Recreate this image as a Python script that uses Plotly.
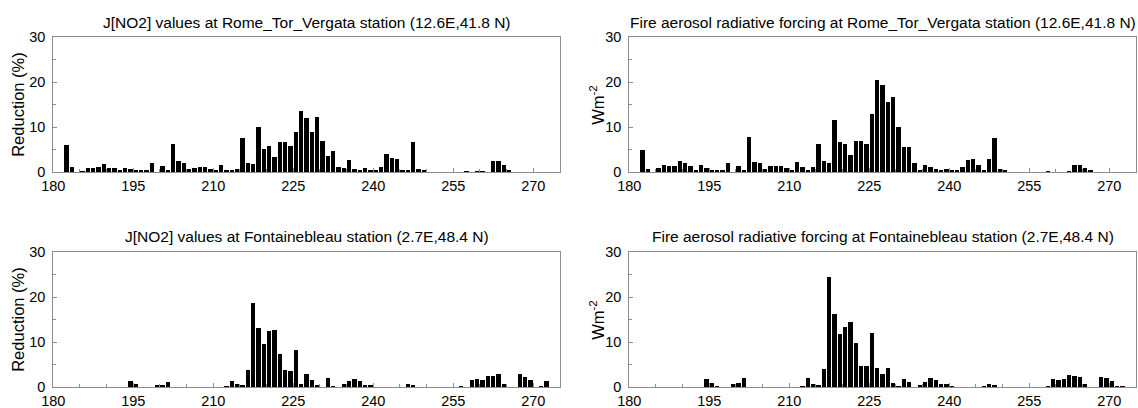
import plotly.graph_objects as go

# ---------------- data (day of year -> value) ----------------
rome_jno2_days = [182,183,185,186,187,188,189,190,191,192,193,194,195,196,197,198,200,201,202,203,204,205,206,207,208,209,210,211,212,213,214,215,216,217,218,219,220,221,222,223,224,225,226,227,228,229,230,231,232,233,234,235,236,237,238,239,240,241,242,243,244,245,246,247,248,249,257,259,260,262,263,264,265]
rome_jno2_vals = [5.9,1.1,0.1,1.0,0.9,1.1,1.8,1.0,0.9,0.3,0.9,0.7,0.5,0.5,0.5,2.0,1.4,0.4,6.2,2.4,2.1,0.6,1.0,1.1,1.1,0.7,0.3,1.6,0.4,0.3,0.7,7.6,2.1,1.8,10.1,5.2,5.8,3.3,6.7,6.6,5.7,9.0,13.5,11.9,9.0,12.3,6.8,3.6,4.6,1.1,0.8,2.7,0.7,0.4,0.9,0.5,0.5,1.1,3.9,3.1,2.9,0.5,0.4,6.7,0.7,0.5,0.1,0.1,0.1,2.4,2.4,1.6,0.3]

rome_arf_days = [182,183,185,186,187,188,189,190,191,192,193,194,195,196,197,198,200,201,202,203,204,205,206,207,208,209,210,211,212,213,214,215,216,217,218,219,220,221,222,223,224,225,226,227,228,229,230,231,232,233,234,235,236,237,238,239,240,241,242,243,244,245,246,247,248,249,250,258,262,263,264,265,266]
rome_arf_vals = [4.8,0.6,0.9,1.6,1.4,1.4,2.4,1.9,1.4,0.5,1.6,1.0,0.5,0.3,0.5,2.1,1.3,0.5,7.8,2.3,1.9,0.7,1.3,1.4,1.4,0.9,0.5,2.2,1.2,0.5,1.2,6.3,2.5,2.1,11.6,6.7,6.3,3.8,7.0,7.0,6.3,13.0,20.4,19.3,15.6,16.6,10.1,5.6,5.6,2.1,0.5,1.6,1.2,0.7,0.5,0.6,0.3,0.3,1.2,2.6,2.8,1.6,0.4,3.0,7.6,0.7,0.3,0.1,0.1,1.6,1.6,1.0,0.3]

font_jno2_days = [194,195,199,200,201,212,213,214,215,216,217,218,219,220,221,222,223,224,225,226,227,228,229,231,232,234,235,236,237,238,239,246,247,256,258,259,260,261,262,263,264,267,268,269,271,272]
font_jno2_vals = [1.3,0.6,0.4,0.5,1.2,0.2,1.4,0.6,0.5,3.8,18.7,13.2,9.6,12.4,12.6,7.3,3.8,3.5,8.2,0.6,3.0,1.6,0.4,2.0,0.2,0.6,1.3,1.8,1.4,0.4,0.4,0.7,0.5,0.1,1.6,1.8,1.6,2.4,2.4,3.0,0.7,3.0,2.3,1.5,0.1,1.4]

font_arf_days = [194,195,196,199,200,201,212,213,214,215,216,217,218,219,220,221,222,223,224,225,226,227,228,229,230,231,232,234,235,236,237,238,239,240,246,247,248,258,259,260,261,262,263,264,265,268,269,270,271,272]
font_arf_vals = [1.8,0.8,0.1,0.7,0.9,2.0,0.2,2.0,0.7,0.4,4.1,24.5,16.2,11.8,13.3,14.4,9.8,4.6,4.6,12.0,4.2,2.8,4.3,1.0,0.1,1.7,1.1,0.3,1.2,2.1,1.5,0.7,0.6,0.1,0.2,0.7,0.3,0.1,1.8,1.6,1.8,2.6,2.4,2.3,0.7,2.3,1.9,1.3,0.1,0.2]

titles = [
    "J[NO2] values at Rome_Tor_Vergata station (12.6E,41.8 N)",
    "Fire aerosol radiative forcing at Rome_Tor_Vergata station (12.6E,41.8 N)",
    "J[NO2] values at Fontainebleau station (2.7E,48.4 N)",
    "Fire aerosol radiative forcing at Fontainebleau station (2.7E,48.4 N)",
]
ylabels = ["Reduction (%)", "Wm<sup>-2</sup>", "Reduction (%)", "Wm<sup>-2</sup>"]
x_ticks = [180, 195, 210, 225, 240, 255, 270]
y_ticks = [0, 10, 20, 30]

series = [(rome_jno2_days, rome_jno2_vals), (rome_arf_days, rome_arf_vals),
          (font_jno2_days, font_jno2_vals), (font_arf_days, font_arf_vals)]

# ---------------- layout geometry ----------------
W, H = 1138, 408
xdom = [[53.3 / W, 560 / W], [629.3 / W, 1136 / W]]
ydom = [[(H - 172.3) / H, (H - 37.3) / H], [(H - 387.3) / H, (H - 252.3) / H]]
title_y = [(H - 22) / H, (H - 237) / H]
ylab_x = [18 / W, 597 / W]

FONT = "Liberation Sans, Arial, Helvetica, sans-serif"
GRAY = "#8c8c8c"

fig = go.Figure()
annotations = []
for i, (days, vals) in enumerate(series):
    r, c = divmod(i, 2)
    n = i + 1
    xa = "x" if n == 1 else f"x{n}"
    ya = "y" if n == 1 else f"y{n}"
    fig.add_trace(go.Bar(x=days, y=vals, xaxis=xa, yaxis=ya,
                         width=0.84, offset=0.1,
                         marker=dict(color="black", line=dict(width=0)),
                         showlegend=False, hoverinfo="skip"))
    axis_common = dict(showline=True, linecolor=GRAY, linewidth=1, mirror=True,
                       ticks="inside", ticklen=4, tickcolor=GRAY,
                       showgrid=False, zeroline=False, automargin=False,
                       tickfont=dict(family=FONT, size=14.5, color="black"))
    fig.layout[f"xaxis{'' if n == 1 else n}"] = dict(
        domain=xdom[c], anchor=ya, range=[180, 275], tickvals=x_ticks,
        ticklabelstandoff=0,
        minor=dict(dtick=5, tick0=180, ticks="inside", ticklen=3, tickcolor=GRAY),
        **axis_common)
    fig.layout[f"yaxis{'' if n == 1 else n}"] = dict(
        domain=ydom[r], anchor=xa, range=[0, 30], tickvals=y_ticks,
        ticklabelstandoff=4,
        minor=dict(dtick=5, tick0=0, ticks="inside", ticklen=3, tickcolor=GRAY),
        **axis_common)
    annotations.append(dict(text=titles[i], xref="paper", yref="paper",
                            x=(xdom[c][0] + xdom[c][1]) / 2, y=title_y[r],
                            xanchor="center", yanchor="middle", showarrow=False,
                            font=dict(family=FONT, size=15.5, color="black")))
    annotations.append(dict(text=ylabels[i], xref="paper", yref="paper",
                            x=ylab_x[c], y=(ydom[r][0] + ydom[r][1]) / 2,
                            xanchor="center", yanchor="middle", showarrow=False,
                            textangle=-90,
                            font=dict(family=FONT, size=16.5, color="black")))

fig.update_layout(width=W, height=H, margin=dict(l=0, r=0, t=0, b=0, autoexpand=False),
                  paper_bgcolor="white", plot_bgcolor="white",
                  bargap=0, annotations=annotations, hovermode=False)
fig.write_html("out.html", config={"displayModeBar": False},
               post_script="document.body.style.margin='0';document.body.style.overflow='hidden';")
